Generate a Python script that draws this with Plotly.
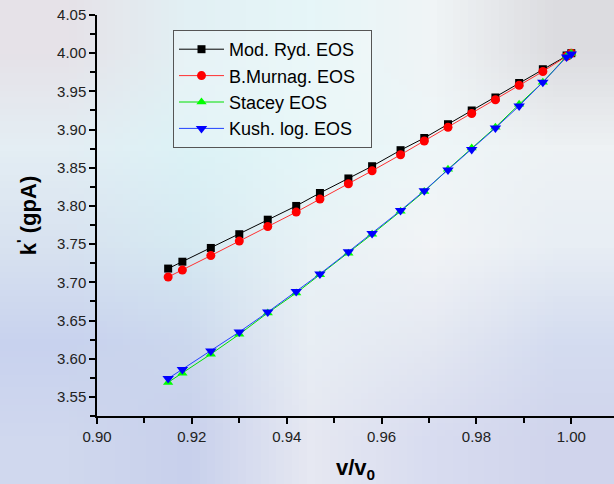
import base64
import struct
import zlib

import plotly.graph_objects as go

v_v0 = [0.915, 0.918, 0.924, 0.930, 0.936, 0.942, 0.947, 0.953, 0.958, 0.964,
        0.969, 0.974, 0.979, 0.984, 0.989, 0.994, 0.999, 1.000]
mod_ryd = [3.718, 3.727, 3.745, 3.763, 3.782, 3.800, 3.817, 3.836, 3.852, 3.873,
           3.889, 3.907, 3.925, 3.942, 3.961, 3.979, 3.997, 4.000]
b_murnag = [3.707, 3.716, 3.735, 3.754, 3.773, 3.792, 3.809, 3.829, 3.846, 3.867,
            3.885, 3.903, 3.921, 3.939, 3.958, 3.976, 3.996, 4.000]
stacey = [3.569, 3.581, 3.606, 3.632, 3.660, 3.686, 3.710, 3.738, 3.763, 3.793,
          3.819, 3.848, 3.876, 3.903, 3.933, 3.962, 3.996, 4.000]
kush_log = [3.574, 3.586, 3.610, 3.635, 3.661, 3.688, 3.711, 3.740, 3.764, 3.794,
            3.820, 3.847, 3.874, 3.902, 3.931, 3.962, 3.995, 3.999]

x_ticks = ["0.90", "0.92", "0.94", "0.96", "0.98", "1.00"]
y_ticks = ["3.55", "3.60", "3.65", "3.70", "3.75", "3.80", "3.85", "3.90", "3.95", "4.00", "4.05"]

series = [
    ("Mod. Ryd. EOS", mod_ryd, "black", "black", "square", 8),
    ("B.Murnag. EOS", b_murnag, "#ff3030", "#ff0000", "circle", 9),
    ("Stacey EOS", stacey, "#00e000", "#00ff00", "triangle-up", 9),
    ("Kush. log. EOS", kush_log, "#2040ff", "#0000ff", "triangle-down", 10),
]

# --- soft background (tiny image stretched, smooth blur like the photo behind the chart)
bg_rows = [
    ["#e6e2e8", "#e2f0f4", "#e6f6f8", "#f0f4f6", "#dcdce0"],
    ["#e4eef4", "#dcf2f6", "#e4f6f8", "#eef6f8", "#eef2f4"],
    ["#d8e2f0", "#d6eaf2", "#e8f2f6", "#f2f4f6", "#e8eef4"],
    ["#c8d2ee", "#ccd8ee", "#e8eef4", "#e4e8f2", "#d4dcf0"],
    ["#d0d8ee", "#c8d0ec", "#e6e8f2", "#d8dcf0", "#d0d4ec"],
]


def make_png(rows):
    h = len(rows)
    w = len(rows[0])
    raw = b""
    for r in rows:
        raw += b"\x00"
        for c in r:
            raw += bytes(int(c[i:i + 2], 16) for i in (1, 3, 5))

    def chunk(tag, data):
        return struct.pack(">I", len(data)) + tag + data + struct.pack(">I", zlib.crc32(tag + data) & 0xffffffff)

    png = b"\x89PNG\r\n\x1a\n"
    png += chunk(b"IHDR", struct.pack(">IIBBBBB", w, h, 8, 2, 0, 0, 0))
    png += chunk(b"IDAT", zlib.compress(raw))
    png += chunk(b"IEND", b"")
    return "data:image/png;base64," + base64.b64encode(png).decode()


fig = go.Figure()
for name, ys, lc, mc, sym, sz in series:
    fig.add_trace(go.Scatter(
        x=v_v0, y=ys, name=name + "\u00a0\u00a0", mode="lines+markers",
        line=dict(color=lc, width=1),
        marker=dict(color=mc, symbol=sym, size=sz, line=dict(width=0)),
    ))

L, R, T, B = 97, 0, 15, 68
W, H = 614, 484
pw, ph = W - L - R, H - T - B

fig.add_layout_image(dict(
    source=make_png(bg_rows), xref="paper", yref="paper",
    x=-L / pw, y=1 + T / ph, sizex=W / pw, sizey=H / ph,
    xanchor="left", yanchor="top", sizing="stretch", layer="below", opacity=1,
))

fig.update_layout(
    width=W, height=H,
    margin=dict(l=L, r=R, t=T, b=B),
    paper_bgcolor="#e4ecf4",
    plot_bgcolor="rgba(0,0,0,0)",
    font=dict(family="Liberation Sans, Arial", color="black"),
    showlegend=True,
    legend=dict(
        x=(173 - L) / pw, y=(H - B - 30) / ph, xanchor="left", yanchor="top",
        bgcolor="rgba(255,255,255,0.2)", bordercolor="#555", borderwidth=1,
        font=dict(size=18, family="Liberation Sans, Arial", color="black"),
        tracegroupgap=0, itemwidth=45,
    ),
    xaxis=dict(
        range=[0.9, 1.009], tickmode="array",
        tickvals=[float(t) for t in x_ticks], ticktext=x_ticks,
        ticks="outside", ticklen=6, tickwidth=1.5, tickcolor="black",
        minor=dict(dtick=0.01, ticks="outside", ticklen=5, tickwidth=1.5, tickcolor="black", showgrid=False),
        showline=True, linecolor="black", linewidth=1.5,
        showgrid=False, zeroline=False, automargin=False,
        tickfont=dict(size=15, color="#222"),
        title=dict(text="<b>v/v<sub>0</sub></b>", font=dict(size=22), standoff=16),
    ),
    yaxis=dict(
        range=[3.525, 4.05], tickmode="array",
        tickvals=[float(t) for t in y_ticks], ticktext=y_ticks,
        ticks="outside", ticklen=6, tickwidth=1.5, tickcolor="black",
        minor=dict(dtick=0.025, tick0=3.525, ticks="outside", ticklen=5, tickwidth=1.5, tickcolor="black", showgrid=False),
        showline=True, linecolor="black", linewidth=1.5,
        showgrid=False, zeroline=False, automargin=False,
        tickfont=dict(size=15, color="#222"),
        title=dict(text="<b>k<sup>'</sup> (gpA)</b>", font=dict(size=22), standoff=14),
    ),
)

fig.write_html("out.html", config={"displayModeBar": False},
               post_script="document.body.style.margin='0';")
